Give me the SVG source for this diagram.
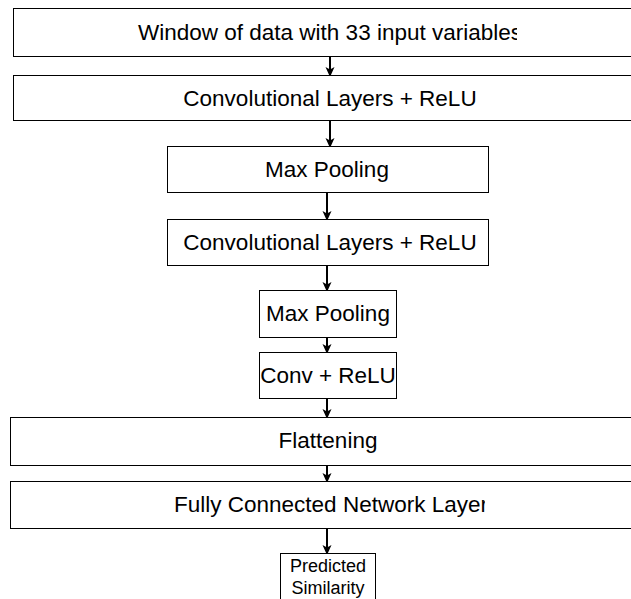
<svg xmlns="http://www.w3.org/2000/svg" width="631" height="599" viewBox="0 0 631 599">
<style>
.box{fill:#fff;stroke:#000;stroke-width:1}
.t{font-family:"Liberation Sans",Arial,sans-serif;font-size:22.5px;fill:#000;text-anchor:middle}
.s{font-family:"Liberation Sans",Arial,sans-serif;font-size:18px;fill:#000;text-anchor:middle}
.c{stroke:#000;stroke-width:2;fill:none;marker-end:url(#ah)}
</style>
<defs>
<marker id="ah" markerWidth="10" markerHeight="11" refX="8" refY="5" orient="auto" markerUnits="userSpaceOnUse">
<path d="M0,0.5 L10,5 L0,9.5 L2.5,5 Z" fill="#000"/>
</marker>
<clipPath id="c1"><rect x="0" y="0" width="517" height="60"/></clipPath>
<clipPath id="c8"><rect x="0" y="480" width="485" height="50"/></clipPath>
</defs>
<g id="connectors">
<line class="c" x1="330" y1="56" x2="330" y2="75"/>
<line class="c" x1="330" y1="120" x2="330" y2="146"/>
<line class="c" x1="327" y1="192" x2="327" y2="219"/>
<line class="c" x1="327" y1="265" x2="327" y2="290"/>
<line class="c" x1="327" y1="337" x2="327" y2="352"/>
<line class="c" x1="327" y1="398" x2="327" y2="417"/>
<line class="c" x1="327" y1="465" x2="327" y2="481"/>
<line class="c" x1="327" y1="528" x2="327" y2="553"/>
</g>
<g id="n1"><rect class="box" x="13.5" y="8.5" width="630" height="48"/><text class="t" x="330" y="40" clip-path="url(#c1)">Window of data with 33 input variables</text></g>
<g id="n2"><rect class="box" x="13.5" y="75.5" width="630" height="45"/><text class="t" x="330" y="106">Convolutional Layers + ReLU</text></g>
<g id="n3"><rect class="box" x="167.5" y="146.5" width="321" height="46"/><text class="t" x="327" y="177">Max Pooling</text></g>
<g id="n4"><rect class="box" x="167.5" y="219.5" width="321" height="46"/><text class="t" x="330" y="250">Convolutional Layers + ReLU</text></g>
<g id="n5"><rect class="box" x="259.5" y="290.5" width="137" height="47"/><text class="t" x="328" y="321">Max Pooling</text></g>
<g id="n6"><rect class="box" x="259.5" y="352.5" width="137" height="46"/><text class="t" x="328" y="383">Conv + ReLU</text></g>
<g id="n7"><rect class="box" x="10.5" y="417.5" width="630" height="48"/><text class="t" x="328" y="448">Flattening</text></g>
<g id="n8"><rect class="box" x="10.5" y="481.5" width="630" height="47"/><text class="t" x="331" y="512" clip-path="url(#c8)">Fully Connected Network Layer</text></g>
<g id="n9"><rect class="box" x="280.5" y="553.5" width="95" height="50"/><text class="s" x="328" y="572">Predicted</text><text class="s" x="328" y="594">Similarity</text></g>
</svg>
